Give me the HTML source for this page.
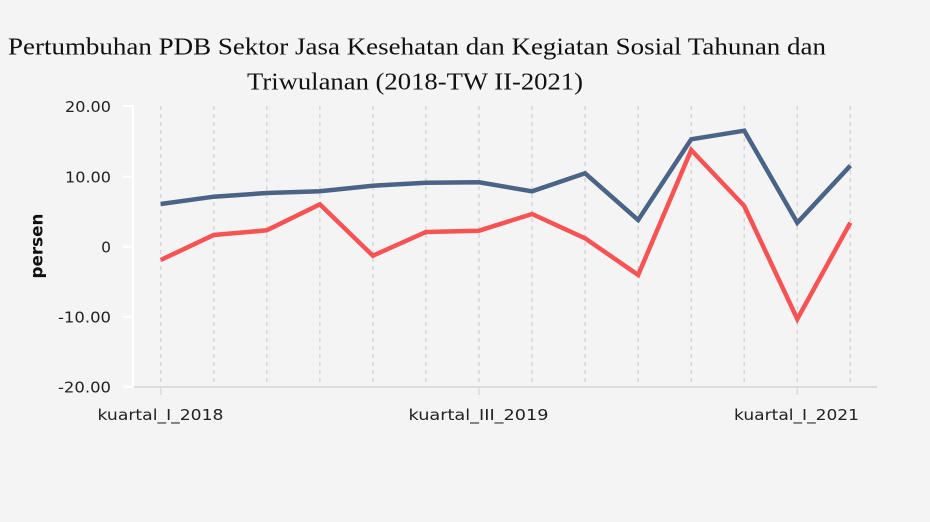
<!DOCTYPE html>
<html><head><meta charset="utf-8"><style>
html,body{margin:0;padding:0;background:#f4f4f4;}
svg{display:block;}
</style></head><body>
<svg width="930" height="522" viewBox="0 0 930 522" xmlns="http://www.w3.org/2000/svg">
<rect width="930" height="522" fill="#f4f4f4"/>
<g font-family="'Liberation Serif', serif" font-size="24.5" fill="#111" text-anchor="middle">
<text x="417" y="54.5" textLength="818" lengthAdjust="spacingAndGlyphs">Pertumbuhan PDB Sektor Jasa Kesehatan dan Kegiatan Sosial Tahunan dan</text>
<text x="415" y="89.5" textLength="336" lengthAdjust="spacingAndGlyphs">Triwulanan (2018-TW II-2021)</text>
</g>
<g stroke="#d6d6d6" stroke-width="1.5" stroke-dasharray="4,4">
<line x1="160.7" y1="106" x2="160.7" y2="387"/>
<line x1="213.75" y1="106" x2="213.75" y2="387"/>
<line x1="266.8" y1="106" x2="266.8" y2="387"/>
<line x1="319.85" y1="106" x2="319.85" y2="387"/>
<line x1="372.9" y1="106" x2="372.9" y2="387"/>
<line x1="425.95" y1="106" x2="425.95" y2="387"/>
<line x1="479" y1="106" x2="479" y2="387"/>
<line x1="532.05" y1="106" x2="532.05" y2="387"/>
<line x1="585.1" y1="106" x2="585.1" y2="387"/>
<line x1="638.15" y1="106" x2="638.15" y2="387"/>
<line x1="691.2" y1="106" x2="691.2" y2="387"/>
<line x1="744.25" y1="106" x2="744.25" y2="387"/>
<line x1="797.3" y1="106" x2="797.3" y2="387"/>
<line x1="850.35" y1="106" x2="850.35" y2="387"/>
</g>
<line x1="133" y1="387" x2="877" y2="387" stroke="#dcdcdc" stroke-width="2"/>
<g stroke="#dcdcdc" stroke-width="1.5">
<line x1="160.7" y1="387" x2="160.7" y2="395"/>
<line x1="479" y1="387" x2="479" y2="395"/>
<line x1="797.3" y1="387" x2="797.3" y2="395"/>
</g>
<g stroke="#ffffff" stroke-width="2">
<line x1="133" y1="105" x2="133" y2="388"/>
<line x1="123" y1="106" x2="133" y2="106"/>
<line x1="123" y1="176.7" x2="133" y2="176.7"/>
<line x1="123" y1="246.7" x2="133" y2="246.7"/>
<line x1="123" y1="316.7" x2="133" y2="316.7"/>
<line x1="123" y1="386.7" x2="133" y2="386.7"/>
</g>
<g font-family="'DejaVu Sans', Verdana, sans-serif" font-size="15.5" fill="#222" text-anchor="end">
<text x="111" y="112" textLength="46" lengthAdjust="spacingAndGlyphs">20.00</text>
<text x="111" y="182.5" textLength="46" lengthAdjust="spacingAndGlyphs">10.00</text>
<text x="111" y="252.5">0</text>
<text x="111" y="322.5" textLength="53" lengthAdjust="spacingAndGlyphs">-10.00</text>
<text x="111" y="392.5" textLength="53" lengthAdjust="spacingAndGlyphs">-20.00</text>
</g>
<g font-family="'DejaVu Sans', Verdana, sans-serif" font-size="15.5" fill="#222" text-anchor="middle">
<text x="160.5" y="420" textLength="126" lengthAdjust="spacingAndGlyphs">kuartal_I_2018</text>
<text x="478.5" y="420" textLength="140" lengthAdjust="spacingAndGlyphs">kuartal_III_2019</text>
<text x="796.5" y="420" textLength="125" lengthAdjust="spacingAndGlyphs">kuartal_I_2021</text>
</g>
<text transform="translate(42.5,246) rotate(-90)" font-family="'DejaVu Sans', Verdana, sans-serif" font-size="17" font-weight="bold" fill="#111" text-anchor="middle" textLength="65" lengthAdjust="spacingAndGlyphs">persen</text>
<polyline fill="none" stroke="#4a6488" stroke-width="4.5" stroke-linejoin="miter" points="160.7,204 213.75,196.7 266.8,193 319.85,191.3 372.9,185.7 425.95,182.7 479,182.3 532.05,191.3 585.1,173.3 638.15,220 691.2,139.3 744.25,130.7 797.3,222.7 850.35,165.7"/>
<polyline fill="none" stroke="#f75353" stroke-width="4.5" stroke-linejoin="miter" points="160.7,260 213.75,235 266.8,230.3 319.85,204.3 372.9,255.7 425.95,232 479,230.7 532.05,214 585.1,238.3 638.15,275 691.2,150 744.25,206 797.3,319 850.35,222.7"/>
</svg>
</body></html>
